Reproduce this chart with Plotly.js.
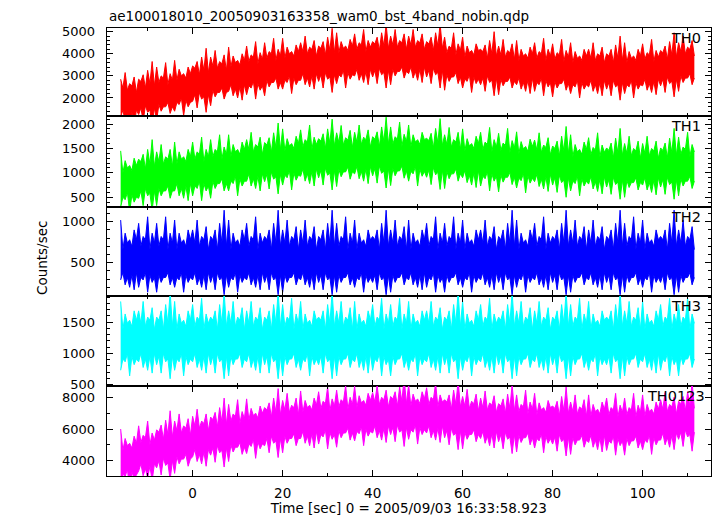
<!DOCTYPE html>
<html>
<head>
<meta charset="utf-8">
<script src="https://cdn.plot.ly/plotly-3.0.1.min.js"></script>
<style>html,body{margin:0;padding:0;background:#fff;}#chart{width:717px;height:516px;}</style>
</head>
<body>
<div id="chart"></div>
<script>
// Light curve bins: start time and bin size (sec); per bin the highest and lowest rate
const timeStart = -16;
const binSize = 0.5;

const channelNames = ["TH0", "TH1", "TH2", "TH3", "TH0123"];
const xTickVals = [0, 20, 40, 60, 80, 100];

const th0Max = [
2850,2450,3150,2350,2650,2550,2950,2250,
2850,2750,3050,2450,3250,2650,3650,2550,
3400,2700,3000,2900,3600,2600,3100,2800,
3700,2800,3300,3000,3100,2900,3400,3100,
3450,3350,3650,3050,3850,3250,4250,3150,
3850,3450,4150,3350,3650,3550,3950,3250,
4300,3400,3900,3600,3700,3500,4000,3700,
4350,3650,3950,3850,4550,3550,4050,3750,
4500,3800,4100,4000,4700,3700,4200,3900,
4700,3800,4300,4000,4100,3900,4400,4100,
4500,4100,4800,4000,4300,4200,4600,3900,
4350,4250,4550,3950,4750,4150,5150,4050,
4950,4050,4550,4250,4350,4150,4650,4350,
4900,4200,4500,4400,5100,4100,4600,4300,
4550,4450,4750,4150,4950,4350,5350,4250,
4800,4400,5100,4300,4600,4500,4900,4200,
4800,4400,5100,4300,4600,4500,4900,4200,
4550,4450,4750,4150,4950,4350,5350,4250,
4750,4050,4350,4250,4950,3950,4450,4150,
4750,3850,4350,4050,4150,3950,4450,4150,
4200,4100,4400,3800,4600,4000,5000,3900,
4350,3950,4650,3850,4150,4050,4450,3750,
4600,3700,4200,3900,4000,3800,4300,4000,
4500,3800,4100,4000,4700,3700,4200,3900,
4450,3750,4050,3950,4650,3650,4150,3850,
4500,3600,4100,3800,3900,3700,4200,3900,
4200,3800,4500,3700,4000,3900,4300,3600,
4000,3900,4200,3600,4400,3800,4800,3700,
4500,3600,4100,3800,3900,3700,4200,3900,
4450,3750,4050,3950,4650,3650,4150,3850,
4150,4050,4350,3750,4550,3950,4950,3850,
4500,4100,4800,4000,4300,4200,4600,3900
];
const th0Min = [
1150,1450,950,1250,850,1350,750,1450,
1250,1550,950,1650,1350,1450,750,1550,
1000,1700,1400,1600,1600,1800,1300,1600,
1400,1800,1700,2000,1200,1900,1600,1800,
1850,2150,1550,2250,1950,2050,1350,2150,
1650,2350,2050,2250,2250,2450,1950,2250,
2300,2600,2100,2400,2000,2500,1900,2600,
2150,2550,2450,2750,1950,2650,2350,2550,
2100,2800,2500,2700,2700,2900,2400,2700,
2400,2800,2700,3000,2200,2900,2600,2800,
2800,3100,2600,2900,2500,3000,2400,3100,
2750,3050,2450,3150,2850,2950,2250,3050,
2650,3050,2950,3250,2450,3150,2850,3050,
3000,3300,2800,3100,2700,3200,2600,3300,
2950,3250,2650,3350,3050,3150,2450,3250,
2600,3300,3000,3200,3200,3400,2900,3200,
3100,3400,2900,3200,2800,3300,2700,3400,
2950,3250,2650,3350,3050,3150,2450,3250,
2350,3050,2750,2950,2950,3150,2650,2950,
2450,2850,2750,3050,2250,2950,2650,2850,
2600,2900,2300,3000,2700,2800,2100,2900,
2150,2850,2550,2750,2750,2950,2450,2750,
2600,2900,2400,2700,2300,2800,2200,2900,
2300,2700,2600,2900,2100,2800,2500,2700,
2050,2750,2450,2650,2650,2850,2350,2650,
2200,2600,2500,2800,2000,2700,2400,2600,
2500,2800,2300,2600,2200,2700,2100,2800,
2400,2700,2100,2800,2500,2600,1900,2700,
2200,2600,2500,2800,2000,2700,2400,2600,
2550,2850,2350,2650,2250,2750,2150,2850,
2550,2850,2250,2950,2650,2750,2050,2850,
2300,3000,2700,2900,2900,3100,2600,2900
];

const th1Max = [
1450,1000,1250,1100,1150,1050,1300,1150,
1280,1230,1380,1080,1480,1180,1680,1130,
1430,1230,1580,1180,1330,1280,1480,1130,
1630,1180,1430,1280,1330,1230,1480,1330,
1630,1280,1430,1380,1730,1230,1480,1330,
1680,1330,1480,1430,1780,1280,1530,1380,
1780,1330,1580,1430,1480,1380,1630,1480,
1680,1480,1830,1430,1580,1530,1730,1380,
1620,1570,1720,1420,1820,1520,2020,1470,
1900,1450,1700,1550,1600,1500,1750,1600,
1880,1530,1680,1630,1980,1480,1730,1580,
1700,1650,1800,1500,1900,1600,2100,1550,
1820,1620,1970,1570,1720,1670,1870,1520,
1830,1630,1980,1580,1730,1680,1880,1530,
1740,1690,1840,1540,1940,1640,2140,1590,
1940,1590,1740,1690,2040,1540,1790,1640,
1980,1530,1780,1630,1680,1580,1830,1680,
1710,1660,1810,1510,1910,1610,2110,1560,
1780,1580,1930,1530,1680,1630,1830,1480,
1900,1450,1700,1550,1600,1500,1750,1600,
1830,1480,1630,1580,1930,1430,1680,1530,
1810,1460,1610,1560,1910,1410,1660,1510,
1840,1390,1640,1490,1540,1440,1690,1540,
1670,1470,1820,1420,1570,1520,1720,1370,
1550,1500,1650,1350,1750,1450,1950,1400,
1780,1330,1580,1430,1480,1380,1630,1480,
1720,1370,1520,1470,1820,1320,1570,1420,
1510,1460,1610,1310,1710,1410,1910,1360,
1600,1400,1750,1350,1500,1450,1650,1300,
1600,1400,1750,1350,1500,1450,1650,1300,
1510,1460,1610,1310,1710,1410,1910,1360,
1730,1380,1530,1480,1830,1330,1580,1430
];
const th1Min = [
300,500,450,600,200,550,400,500,
480,630,330,680,530,580,230,630,
330,680,530,630,630,730,480,630,
630,780,530,680,480,730,430,780,
530,730,680,830,430,780,630,730,
480,830,680,780,780,880,630,780,
630,830,780,930,530,880,730,830,
830,980,730,880,680,930,630,980,
820,970,670,1020,870,920,570,970,
750,950,900,1050,650,1000,850,950,
930,1080,830,980,780,1030,730,1080,
900,1050,750,1100,950,1000,650,1050,
720,1070,920,1020,1020,1120,870,1020,
980,1130,880,1030,830,1080,780,1130,
940,1090,790,1140,990,1040,690,1090,
740,1090,940,1040,1040,1140,890,1040,
830,1030,980,1130,730,1080,930,1030,
910,1060,760,1110,960,1010,660,1060,
680,1030,880,980,980,1080,830,980,
900,1050,800,950,750,1000,700,1050,
730,930,880,1030,630,980,830,930,
610,960,810,910,910,1010,760,910,
690,890,840,990,590,940,790,890,
820,970,720,870,670,920,620,970,
750,900,600,950,800,850,500,900,
630,830,780,930,530,880,730,830,
770,920,670,820,620,870,570,920,
710,860,560,910,760,810,460,860,
500,850,700,800,800,900,650,800,
750,900,650,800,600,850,550,900,
710,860,560,910,760,810,460,860,
530,880,730,830,830,930,680,830
];

const th2Max = [
1020,660,860,740,780,700,900,780,
980,700,820,780,1060,660,860,740,
980,700,820,780,1060,660,860,740,
1020,660,860,740,780,700,900,780,
900,740,1020,700,820,780,940,660,
820,780,900,660,980,740,1140,700,
1020,660,860,740,780,700,900,780,
980,700,820,780,1060,660,860,740,
820,780,900,660,980,740,1140,700,
900,740,1020,700,820,780,940,660,
900,740,1020,700,820,780,940,660,
820,780,900,660,980,740,1140,700,
980,700,820,780,1060,660,860,740,
1020,660,860,740,780,700,900,780,
820,780,900,660,980,740,1140,700,
900,740,1020,700,820,780,940,660,
1020,660,860,740,780,700,900,780,
980,700,820,780,1060,660,860,740,
980,700,820,780,1060,660,860,740,
1020,660,860,740,780,700,900,780,
900,740,1020,700,820,780,940,660,
820,780,900,660,980,740,1140,700,
1020,660,860,740,780,700,900,780,
980,700,820,780,1060,660,860,740,
820,780,900,660,980,740,1140,700,
900,740,1020,700,820,780,940,660,
900,740,1020,700,820,780,940,660,
820,780,900,660,980,740,1140,700,
980,700,820,780,1060,660,860,740,
1020,660,860,740,780,700,900,780,
820,780,900,660,980,740,1140,700,
900,740,1020,700,820,780,940,660
];
const th2Min = [
290,380,230,320,200,350,170,380,
200,320,290,380,140,350,260,320,
140,350,260,320,320,380,230,320,
200,320,290,380,140,350,260,320,
290,380,230,320,200,350,170,380,
260,350,170,380,290,320,110,350,
200,320,290,380,140,350,260,320,
290,380,230,320,200,350,170,380,
260,350,170,380,290,320,110,350,
140,350,260,320,320,380,230,320,
290,380,230,320,200,350,170,380,
260,350,170,380,290,320,110,350,
140,350,260,320,320,380,230,320,
200,320,290,380,140,350,260,320,
260,350,170,380,290,320,110,350,
140,350,260,320,320,380,230,320,
290,380,230,320,200,350,170,380,
200,320,290,380,140,350,260,320,
140,350,260,320,320,380,230,320,
200,320,290,380,140,350,260,320,
290,380,230,320,200,350,170,380,
260,350,170,380,290,320,110,350,
200,320,290,380,140,350,260,320,
290,380,230,320,200,350,170,380,
260,350,170,380,290,320,110,350,
140,350,260,320,320,380,230,320,
290,380,230,320,200,350,170,380,
260,350,170,380,290,320,110,350,
140,350,260,320,320,380,230,320,
200,320,290,380,140,350,260,320,
260,350,170,380,290,320,110,350,
140,350,260,320,320,380,230,320
];

const th3Max = [
1830,1380,1630,1480,1530,1430,1680,1530,
1680,1480,1830,1430,1580,1530,1730,1380,
1580,1530,1680,1380,1780,1480,1980,1430,
1830,1380,1630,1480,1530,1430,1680,1530,
1780,1430,1580,1530,1880,1380,1630,1480,
1580,1530,1680,1380,1780,1480,1980,1430,
1680,1480,1830,1430,1580,1530,1730,1380,
1680,1480,1830,1430,1580,1530,1730,1380,
1580,1530,1680,1380,1780,1480,1980,1430,
1780,1430,1580,1530,1880,1380,1630,1480,
1830,1380,1630,1480,1530,1430,1680,1530,
1580,1530,1680,1380,1780,1480,1980,1430,
1680,1480,1830,1430,1580,1530,1730,1380,
1830,1380,1630,1480,1530,1430,1680,1530,
1780,1430,1580,1530,1880,1380,1630,1480,
1780,1430,1580,1530,1880,1380,1630,1480,
1830,1380,1630,1480,1530,1430,1680,1530,
1680,1480,1830,1430,1580,1530,1730,1380,
1580,1530,1680,1380,1780,1480,1980,1430,
1830,1380,1630,1480,1530,1430,1680,1530,
1780,1430,1580,1530,1880,1380,1630,1480,
1580,1530,1680,1380,1780,1480,1980,1430,
1680,1480,1830,1430,1580,1530,1730,1380,
1680,1480,1830,1430,1580,1530,1730,1380,
1580,1530,1680,1380,1780,1480,1980,1430,
1780,1430,1580,1530,1880,1380,1630,1480,
1830,1380,1630,1480,1530,1430,1680,1530,
1580,1530,1680,1380,1780,1480,1980,1430,
1680,1480,1830,1430,1580,1530,1730,1380,
1830,1380,1630,1480,1530,1430,1680,1530,
1780,1430,1580,1530,1880,1380,1630,1480,
1780,1430,1580,1530,1880,1380,1630,1480
];
const th3Min = [
730,910,865,1000,640,955,820,910,
865,1000,775,910,730,955,685,1000,
820,955,685,1000,865,910,595,955,
730,910,865,1000,640,955,820,910,
865,1000,775,910,730,955,685,1000,
820,955,685,1000,865,910,595,955,
640,955,820,910,910,1000,775,910,
865,1000,775,910,730,955,685,1000,
820,955,685,1000,865,910,595,955,
640,955,820,910,910,1000,775,910,
730,910,865,1000,640,955,820,910,
820,955,685,1000,865,910,595,955,
640,955,820,910,910,1000,775,910,
865,1000,775,910,730,955,685,1000,
730,910,865,1000,640,955,820,910,
640,955,820,910,910,1000,775,910,
730,910,865,1000,640,955,820,910,
865,1000,775,910,730,955,685,1000,
820,955,685,1000,865,910,595,955,
730,910,865,1000,640,955,820,910,
865,1000,775,910,730,955,685,1000,
820,955,685,1000,865,910,595,955,
640,955,820,910,910,1000,775,910,
865,1000,775,910,730,955,685,1000,
820,955,685,1000,865,910,595,955,
640,955,820,910,910,1000,775,910,
730,910,865,1000,640,955,820,910,
820,955,685,1000,865,910,595,955,
640,955,820,910,910,1000,775,910,
865,1000,775,910,730,955,685,1000,
730,910,865,1000,640,955,820,910,
640,955,820,910,910,1000,775,910
];

const th0123Max = [
6000,4650,5400,4950,5100,4800,5550,5100,
6200,5150,5600,5450,6500,5000,5750,5300,
5950,5800,6250,5350,6550,5650,7150,5500,
6500,5900,6950,5750,6200,6050,6650,5600,
6800,6200,7250,6050,6500,6350,6950,5900,
6750,6600,7050,6150,7350,6450,7950,6300,
7550,6500,6950,6800,7850,6350,7100,6650,
7900,6550,7300,6850,7000,6700,7450,7000,
7350,7200,7650,6750,7950,7050,8550,6900,
7800,7200,8250,7050,7500,7350,7950,6900,
8400,7050,7800,7350,7500,7200,7950,7500,
8350,7300,7750,7600,8650,7150,7900,7450,
8450,7400,7850,7700,8750,7250,8000,7550,
8700,7350,8100,7650,7800,7500,8250,7800,
8300,7700,8750,7550,8000,7850,8450,7400,
8050,7900,8350,7450,8650,7750,9250,7600,
8800,7450,8200,7750,7900,7600,8350,7900,
8600,7550,8000,7850,8900,7400,8150,7700,
7850,7700,8150,7250,8450,7550,9050,7400,
8050,7450,8500,7300,7750,7600,8200,7150,
7950,7350,8400,7200,7650,7500,8100,7050,
7600,7450,7900,7000,8200,7300,8800,7150,
8150,7100,7550,7400,8450,6950,7700,7250,
8250,6900,7650,7200,7350,7050,7800,7350,
7450,7300,7750,6850,8050,7150,8650,7000,
7700,7100,8150,6950,7400,7250,7850,6800,
8150,6800,7550,7100,7250,6950,7700,7250,
7950,6900,7350,7200,8250,6750,7500,7050,
7950,6900,7350,7200,8250,6750,7500,7050,
8150,6800,7550,7100,7250,6950,7700,7250,
7850,7250,8300,7100,7550,7400,8000,6950,
7750,7600,8050,7150,8350,7450,8950,7300
];
const th0123Min = [
2550,3150,3000,3450,2250,3300,2850,3150,
3350,3800,3050,3500,2900,3650,2750,3800,
3550,4000,3100,4150,3700,3850,2800,4000,
3200,4250,3800,4100,4100,4400,3650,4100,
4250,4700,3950,4400,3800,4550,3650,4700,
4350,4800,3900,4950,4500,4650,3600,4800,
3950,5000,4550,4850,4850,5150,4400,4850,
4450,5050,4900,5350,4150,5200,4750,5050,
4950,5400,4500,5550,5100,5250,4200,5400,
4500,5550,5100,5400,5400,5700,4950,5400,
5400,5850,5100,5550,4950,5700,4800,5850,
5050,5650,5500,5950,4750,5800,5350,5650,
4850,5900,5450,5750,5750,6050,5300,5750,
5250,5850,5700,6150,4950,6000,5550,5850,
5750,6200,5450,5900,5300,6050,5150,6200,
5650,6100,5200,6250,5800,5950,4900,6100,
5350,5950,5800,6250,5050,6100,5650,5950,
5750,6200,5450,5900,5300,6050,5150,6200,
5450,5900,5000,6050,5600,5750,4700,5900,
4750,5800,5350,5650,5650,5950,5200,5650,
5400,5850,5100,5550,4950,5700,4800,5850,
5200,5650,4750,5800,5350,5500,4450,5650,
4550,5600,5150,5450,5450,5750,5000,5450,
4800,5400,5250,5700,4500,5550,5100,5400,
5050,5500,4600,5650,5200,5350,4300,5500,
4400,5450,5000,5300,5300,5600,4850,5300,
5150,5600,4850,5300,4700,5450,4550,5600,
4650,5250,5100,5550,4350,5400,4950,5250,
4350,5400,4950,5250,5250,5550,4800,5250,
4700,5300,5150,5600,4400,5450,5000,5300,
5300,5750,5000,5450,4850,5600,4700,5750,
5350,5800,4900,5950,5500,5650,4600,5800
];

const seriesMax = [th0Max, th1Max, th2Max, th3Max, th0123Max];
const seriesMin = [th0Min, th1Min, th2Min, th3Min, th0123Min];
const colors = ["#ff0000", "#00ff00", "#0000ff", "#00ffff", "#ff00ff"];

const W = 717, H = 516;
const plotLeft = 106.7, plotRight = 711;
const panelEdges = [27.7, 116.3, 206.7, 296, 386, 476];
const yRanges = [[1170, 5180], [307, 2158], [94, 1183], [479, 1917], [3035, 8713]];
const yDtick = [1000, 500, 500, 500, 2000];
const yMinor = [200, 100, 100, 100, 1000];
const xRange = [-19.1, 115.2];

const FONT = "DejaVu Sans";
const traces = [];
const layout = {
  width: W, height: H,
  margin: {l: 0, r: 0, t: 0, b: 0},
  paper_bgcolor: "#ffffff",
  plot_bgcolor: "#ffffff",
  showlegend: false,
  font: {family: FONT, size: 13.5, color: "#000"},
  annotations: []
};

seriesMax.forEach((hi, k) => {
  const n = k + 1;
  const lo = seriesMin[k];
  const times = hi.map((_, i) => timeStart + binSize * i);
  traces.push({
    type: "scatter", mode: "lines",
    x: times, y: lo,
    xaxis: "x" + n, yaxis: "y" + n,
    line: {color: colors[k], width: 1},
    hoverinfo: "skip"
  });
  traces.push({
    type: "scatter", mode: "lines",
    x: times, y: hi,
    xaxis: "x" + n, yaxis: "y" + n,
    fill: "tonexty", fillcolor: colors[k],
    line: {color: colors[k], width: 1},
    hoverinfo: "skip"
  });
  const top = panelEdges[k], bot = panelEdges[k + 1];
  const xa = {
    domain: [plotLeft / W, plotRight / W],
    range: xRange,
    anchor: "y" + n,
    showgrid: false, zeroline: false,
    showline: true, linecolor: "#000", linewidth: 1, mirror: "allticks",
    ticks: "inside", ticklen: 6, tickcolor: "#000", tickwidth: 1,
    tickvals: xTickVals,
    showticklabels: k === 4,
    ticklabelstandoff: 5,
    tickfont: {family: FONT, size: 13.5, color: "#000"},
    minor: {ticks: "inside", ticklen: 3, dtick: 10, tick0: 0, tickcolor: "#000", showgrid: false}
  };
  if (k === 4) {
    xa.title = {text: "Time [sec] 0 = 2005/09/03 16:33:58.923", font: {family: FONT, size: 13.5, color: "#000"}, standoff: 4};
  }
  const ya = {
    domain: [1 - bot / H, 1 - top / H],
    range: yRanges[k],
    anchor: "x" + n,
    showgrid: false, zeroline: false,
    showline: true, linecolor: "#000", linewidth: 1, mirror: "allticks",
    ticks: "inside", ticklen: 6, tickcolor: "#000", tickwidth: 1,
    dtick: yDtick[k], tick0: 0,
    ticklabelstandoff: 8,
    tickfont: {family: FONT, size: 13, color: "#000"},
    minor: {ticks: "inside", ticklen: 3, dtick: yMinor[k], tick0: 0, tickcolor: "#000", showgrid: false}
  };
  layout["xaxis" + n] = xa;
  layout["yaxis" + n] = ya;
  layout.annotations.push({
    xref: "paper", yref: "paper",
    x: (k === 4 ? 707 : 703) / W, y: 1 - (top + 10) / H,
    xanchor: "right", yanchor: "middle",
    text: channelNames[k], showarrow: false,
    font: {family: FONT, size: 14.5, color: "#000"}
  });
});

layout.annotations.push({
  xref: "paper", yref: "paper", x: 107 / W, y: 1 - 15.5 / H,
  xanchor: "left", yanchor: "middle", showarrow: false,
  text: "ae100018010_20050903163358_wam0_bst_4band_nobin.qdp",
  font: {family: FONT, size: 13.5, color: "#000"}
});
layout.annotations.push({
  xref: "paper", yref: "paper", x: 42 / W, y: 1 - 258 / H,
  xanchor: "center", yanchor: "middle", showarrow: false, textangle: -90,
  text: "Counts/sec",
  font: {family: FONT, size: 13.5, color: "#000"}
});

Plotly.newPlot("chart", traces, layout, {staticPlot: true, displayModeBar: false});
</script>
</body>
</html>
